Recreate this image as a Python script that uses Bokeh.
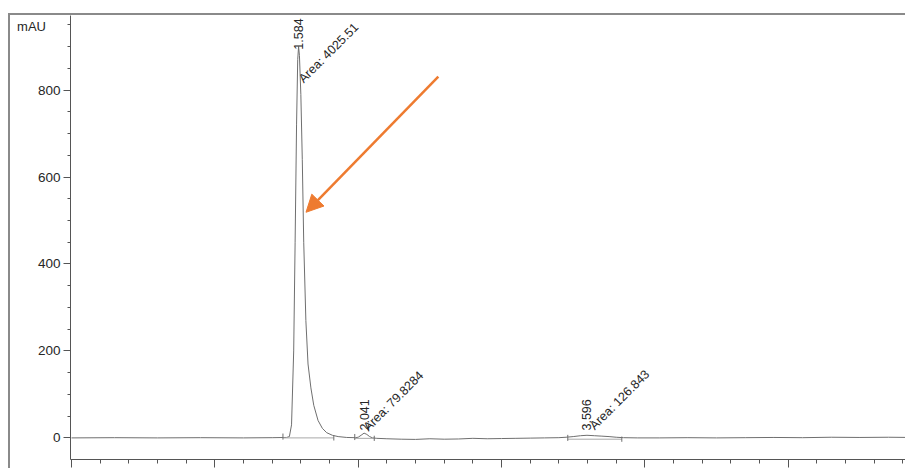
from bokeh.plotting import figure
from bokeh.models import (ColumnDataSource, LabelSet, Arrow, NormalHead,
                          SingleIntervalTicker, Range1d, CustomJSTickFormatter)
from bokeh.core.properties import value
from bokeh.embed import file_html
from bokeh.resources import INLINE

# ---------------- data ----------------
time_min = [0.00, 0.30, 0.60, 0.90, 1.20, 1.40, 1.50, 1.52, 1.535, 1.55,
            1.56, 1.57, 1.578, 1.584, 1.59, 1.60, 1.61, 1.62, 1.635, 1.65,
            1.67, 1.69, 1.72, 1.75, 1.78, 1.82, 1.86, 1.92, 1.98, 2.00,
            2.02, 2.041, 2.06, 2.08, 2.10, 2.13, 2.20, 2.30, 2.40, 2.50,
            2.60, 2.70, 2.80, 2.90, 3.00, 3.10, 3.20, 3.30, 3.40, 3.45,
            3.50, 3.55, 3.596, 3.65, 3.70, 3.75, 3.80, 3.85, 3.95, 4.10,
            4.30, 4.50, 4.70, 4.90, 5.10, 5.30, 5.50, 5.70, 5.85]
signal_mau = [0, 0.5, 0, 0.5, 0, 0.5, 1, 3, 30, 200,
              450, 720, 870, 900, 880, 790, 640, 450, 270, 170,
              115, 75, 40, 22, 12, 6, 3, 1, 0.5, 1.5,
              6, 11, 8, 3, 0, -1, -2, -3, -3.5, -2,
              -3, -2.5, -1, -2, -1.5, -1, -0.5, 0, 0.5, 1.5,
              3, 5, 6, 5, 4, 3, 1.5, 0.5, 0, 0,
              0.5, 0, 0.5, 1, 0.5, 1.5, 1, 1.5, 1]

peak_rt = [1.584, 2.041, 3.596]
peak_rt_text = ["1.584", "2.041", "3.596"]
peak_area_text = ["Area: 4025.51", "Area: 79.8284", "Area: 126.843"]
peak_start = [1.475, 1.976, 3.462]
peak_end = [1.830, 2.112, 3.839]
peak_baseline = [0.0, -1.0, -3.0]

y_unit = "mAU"
y_ticks_interval = 200
x_ticks_interval = 1

# ---------------- placement (layout only) ----------------
rt_label_y = [893, 17, 17]
area_label_x = [1.620, 2.072, 3.650]
area_label_y = [815, 14, 17]
arrow_from = (2.559, 831)
arrow_to = (1.636, 519)

ORANGE = "#ee7b30"
TRACE = "#6f6f6f"
TEXT = "#262626"
FRAME = "#8a8a8a"
FONT = "Liberation Sans"

p = figure(width=895, height=453,
           x_range=Range1d(-0.007, 5.832), y_range=Range1d(-49.7, 971.6),
           output_backend="svg", toolbar_location=None,
           min_border_left=60, min_border_right=0,
           min_border_top=0, min_border_bottom=11)
p.styles = {"box-sizing": "content-box",
            "margin-left": "8px", "margin-top": "13px",
            "border-top": f"2px solid {FRAME}",
            "border-left": f"2px solid {FRAME}"}
p.outline_line_color = None
p.grid.visible = False
p.background_fill_color = "white"
p.border_fill_color = "white"

# chromatogram trace
p.line(time_min, signal_mau, line_color=TRACE, line_width=1)

# integration baselines and start/end markers
p.segment(x0=peak_start, y0=peak_baseline, x1=peak_end, y1=peak_baseline,
          line_color="#a8a8a8", line_width=1)
p.segment(x0=peak_start, y0=[b - 4 for b in peak_baseline],
          x1=peak_start, y1=[b + 10 for b in peak_baseline],
          line_color=TRACE, line_width=1)
p.segment(x0=peak_end, y0=[b - 6 for b in peak_baseline],
          x1=peak_end, y1=[b + 6 for b in peak_baseline],
          line_color=TRACE, line_width=1)

# peak annotations
rt_src = ColumnDataSource(dict(x=peak_rt, y=rt_label_y, text=peak_rt_text))
p.add_layout(LabelSet(x="x", y="y", text="text", source=rt_src,
                      angle=90, angle_units="deg",
                      text_align="left", text_baseline="middle",
                      text_font=value(FONT), text_font_size=value("12.5px"),
                      text_color=TEXT))
area_src = ColumnDataSource(dict(x=area_label_x, y=area_label_y, text=peak_area_text))
p.add_layout(LabelSet(x="x", y="y", text="text", source=area_src,
                      angle=45, angle_units="deg",
                      text_align="left", text_baseline="alphabetic",
                      text_font=value(FONT), text_font_size=value("12.5px"),
                      text_color=TEXT))

# orange arrow
p.add_layout(Arrow(x_start=arrow_from[0], y_start=arrow_from[1],
                   x_end=arrow_to[0], y_end=arrow_to[1],
                   line_color=ORANGE, line_width=2.5,
                   end=NormalHead(size=17, fill_color=ORANGE, line_color=ORANGE)))

# axes
p.yaxis.ticker = SingleIntervalTicker(interval=y_ticks_interval, num_minor_ticks=4)
p.xaxis.ticker = SingleIntervalTicker(interval=x_ticks_interval, num_minor_ticks=5)
for ax in (p.xaxis[0], p.yaxis[0]):
    ax.axis_line_color = "#555555"
    ax.major_tick_line_color = "#555555"
    ax.minor_tick_line_color = "#555555"
    ax.major_tick_in = 0
    ax.minor_tick_in = 0
p.yaxis.major_tick_out = 7
p.yaxis.minor_tick_out = 3
p.yaxis.major_label_standoff = 3
p.yaxis.major_label_text_font = FONT
p.yaxis.major_label_text_font_size = "13.5px"
p.yaxis.major_label_text_color = TEXT
p.yaxis.axis_label = "\n" + y_unit
p.yaxis.axis_label_orientation = "horizontal"
p.yaxis.axis_label_align = "end"
p.yaxis.axis_label_standoff = -11
p.yaxis.axis_label_text_font = FONT
p.yaxis.axis_label_text_font_size = "13px"
p.yaxis.axis_label_text_font_style = "normal"
p.yaxis.axis_label_text_line_height = 1.4
p.yaxis.axis_label_text_color = TEXT
p.xaxis.major_tick_out = 8
p.xaxis.minor_tick_out = 4
p.xaxis.formatter = CustomJSTickFormatter(code="return ''")
p.xaxis.major_label_standoff = 0

open("out.html", "w").write(file_html(p, INLINE))
